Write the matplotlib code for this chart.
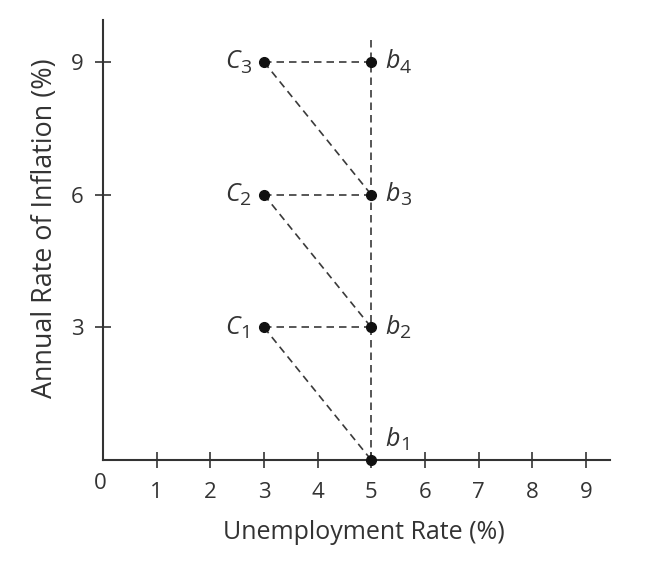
import matplotlib.pyplot as plt

plt.rcParams['font.family'] = ['Open Sans', 'DejaVu Sans']

# points on the chart
c_x = [3, 3, 3]
c_y = [3, 6, 9]
c_names = ['1', '2', '3']
b_x = [5, 5, 5, 5]
b_y = [0, 3, 6, 9]
b_names = ['1', '2', '3', '4']
x_ticks = [1, 2, 3, 4, 5, 6, 7, 8, 9]
y_ticks = [3, 6, 9]

ink = '#333333'

fig = plt.figure(figsize=(6.53, 5.63), dpi=100)
ax = fig.add_axes([0.1577, 0.183, 0.7764, 0.7815])
ax.set_xlim(0, 9.45)
ax.set_ylim(0, 9.95)

dash = dict(color='#3a3a3a', lw=1.2, ls=(0, (4.5, 3)))

# vertical line at natural rate
ax.plot([5, 5], [0, 9.55], **dash)
# horizontal moves C -> b and diagonal moves C -> b
for i in range(3):
    ax.plot([c_x[i], b_x[i + 1]], [c_y[i], b_y[i + 1]], **dash)
    ax.plot([c_x[i], b_x[i]], [c_y[i], b_y[i]], **dash)

ax.plot(c_x, c_y, 'o', color='#111111', ms=7, zorder=5)
ax.plot(b_x, b_y, 'o', color='#111111', ms=7, zorder=5, clip_on=False)


def point_label(x, y, letter, sub, dx, dy, side):
    # letter plus a big, low subscript
    if side == 'left':
        ax.annotate(sub, (x, y), xytext=(dx, dy - 4), textcoords='offset points',
                    ha='right', va='center', fontsize=14, color=ink)
        ax.annotate(letter, (x, y), xytext=(dx - 8.5, dy), textcoords='offset points',
                    ha='right', va='center', fontsize=18, color=ink,
                    style='italic')
    else:
        ax.annotate(letter, (x, y), xytext=(dx, dy), textcoords='offset points',
                    ha='left', va='center', fontsize=18, color=ink,
                    style='italic')
        ax.annotate(sub, (x, y), xytext=(dx + 10.5, dy - 4), textcoords='offset points',
                    ha='left', va='center', fontsize=14, color=ink)


for x, y, n in zip(c_x, c_y, c_names):
    point_label(x, y, 'C', n, -9, 0, 'left')
for x, y, n in zip(b_x[1:], b_y[1:], b_names[1:]):
    point_label(x, y, 'b', n, 10, 0, 'right')
point_label(b_x[0], b_y[0], 'b', b_names[0], 10, 15, 'right')

for s in ['top', 'right']:
    ax.spines[s].set_visible(False)
for s in ['left', 'bottom']:
    ax.spines[s].set_color(ink)
    ax.spines[s].set_linewidth(1.5)

ax.set_xticks(x_ticks)
ax.set_yticks(y_ticks)
ax.tick_params(axis='both', direction='inout', length=12, width=1.2,
               color=ink, labelcolor=ink, labelsize=16)
ax.tick_params(axis='x', pad=10)
ax.tick_params(axis='y', pad=8)
ax.text(-0.05, -0.3, '0', ha='center', va='top', fontsize=16, color=ink,
        transform=ax.transData)

ax.set_xlabel('Unemployment Rate (%)', fontsize=18, color=ink)
ax.xaxis.set_label_coords(0.514, -0.137)
ax.set_ylabel('Annual Rate of Inflation (%)', fontsize=19.4, color=ink)
ax.yaxis.set_label_coords(-0.086, 0.527)

fig.savefig('out.png', dpi=100)
